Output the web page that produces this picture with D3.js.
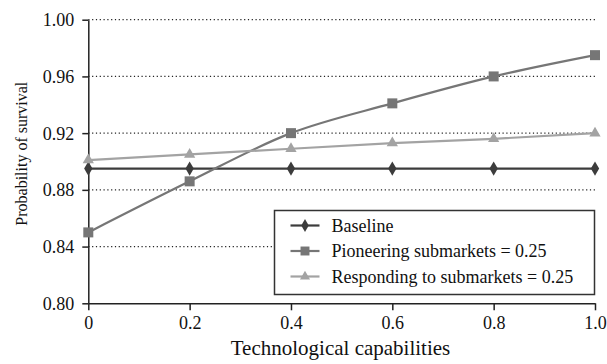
<!DOCTYPE html>
<html lang="en">
<head>
    <meta charset="UTF-8">
    <title>Probability of survival</title>
    <script src="https://d3js.org/d3.v7.min.js"></script>
    <style>
        body { margin: 0; background: #fff; }
        svg text { font-family: "Liberation Serif", "DejaVu Serif", serif; fill: #111; }
    </style>
</head>
<body>
    <div id="chart"></div>

    <script>
        // Chart data
        var xValues = [0, 0.2, 0.4, 0.6, 0.8, 1.0];
        var baseline = [0.895, 0.895, 0.895, 0.895, 0.895, 0.895];
        var pioneering = [0.850, 0.886, 0.920, 0.941, 0.960, 0.975];
        var responding = [0.901, 0.905, 0.909, 0.913, 0.916, 0.920];
        var yTicks = [0.80, 0.84, 0.88, 0.92, 0.96, 1.00];
        var xTicks = [0, 0.2, 0.4, 0.6, 0.8, 1.0];
        var seriesNames = ["Baseline", "Pioneering submarkets = 0.25", "Responding to submarkets = 0.25"];

        var svg = d3.select("#chart")
            .append("svg")
            .attr("width", 607)
            .attr("height", 364);

        var margin = { top: 19.7, right: 12, bottom: 60.7, left: 88.3 };
        var width = 595 - margin.left;
        var height = 303.3 - margin.top;

        var x = d3.scaleLinear().domain([0, 1]).range([0, width]);
        var y = d3.scaleLinear().domain([0.8, 1.0]).range([height, 0]);

        var g = svg.append("g")
            .attr("transform", "translate(" + margin.left + "," + margin.top + ")");

        // Dotted gridlines
        g.selectAll(".grid")
            .data(yTicks.filter(function(d) { return d > 0.8; }))
            .enter().append("line")
            .attr("class", "grid")
            .attr("x1", 0)
            .attr("x2", width)
            .attr("y1", function(d) { return y(d); })
            .attr("y2", function(d) { return y(d); })
            .attr("stroke", "#222")
            .attr("stroke-width", 1.2)
            .attr("stroke-dasharray", "1.2,2.6");

        // Axes
        var xAxis = g.append("g")
            .attr("transform", "translate(0," + height + ")")
            .call(d3.axisBottom(x).tickValues(xTicks).tickSize(7).tickSizeOuter(0)
                .tickFormat(function(d) { return d === 0 ? "0" : d3.format(".1f")(d); }));
        var yAxis = g.append("g")
            .call(d3.axisLeft(y).tickValues(yTicks).tickSize(6).tickSizeOuter(0)
                .tickFormat(d3.format(".2f")));

        [xAxis, yAxis].forEach(function(ax) {
            ax.select(".domain").attr("stroke", "#222").attr("stroke-width", 1.5);
            ax.selectAll(".tick line").attr("stroke", "#222").attr("stroke-width", 1.5);
            ax.selectAll(".tick text")
                .style("font-family", "'Liberation Serif', serif")
                .style("font-size", "18px")
                .attr("fill", "#111");
        });
        xAxis.selectAll(".tick text").attr("y", 10).attr("dy", "0.9em");
        yAxis.selectAll(".tick text").attr("x", -14).attr("dy", "0.33em");

        // Series lines
        var series = [
            { name: seriesNames[0], values: baseline, color: "#3c3c3c", symbol: d3.symbolDiamond, size: 60, curve: d3.curveLinear },
            { name: seriesNames[1], values: pioneering, color: "#767676", symbol: d3.symbolSquare, size: 100, curve: d3.curveCatmullRom },
            { name: seriesNames[2], values: responding, color: "#a3a3a3", symbol: d3.symbolTriangle, size: 55, curve: d3.curveLinear }
        ];

        series.forEach(function(s) {
            var pts = xValues.map(function(xv, i) { return [xv, s.values[i]]; });
            var line = d3.line()
                .x(function(d) { return x(d[0]); })
                .y(function(d) { return y(d[1]); })
                .curve(s.curve);

            g.append("path")
                .datum(pts)
                .attr("fill", "none")
                .attr("stroke", s.color)
                .attr("stroke-width", 2.2)
                .attr("d", line);

            g.selectAll(null)
                .data(pts)
                .enter().append("path")
                .attr("transform", function(d) { return "translate(" + x(d[0]) + "," + y(d[1]) + ")"; })
                .attr("d", d3.symbol().type(s.symbol).size(s.size))
                .attr("fill", s.color);
        });

        // Axis titles
        svg.append("text")
            .attr("x", 340.5)
            .attr("y", 355)
            .attr("text-anchor", "middle")
            .style("font-size", "21px")
            .text("Technological capabilities");

        svg.append("text")
            .attr("transform", "translate(27,153.7) rotate(-90)")
            .attr("text-anchor", "middle")
            .style("font-size", "16px")
            .text("Probability of survival");

        // Legend
        var legend = svg.append("g")
            .attr("transform", "translate(274.5,210.5)");

        legend.append("rect")
            .attr("width", 320)
            .attr("height", 84)
            .attr("fill", "#fff")
            .attr("stroke", "#333")
            .attr("stroke-width", 1.5);

        series.forEach(function(s, i) {
            var ly = 15 + i * 25.5;
            legend.append("line")
                .attr("x1", 16).attr("x2", 45)
                .attr("y1", ly).attr("y2", ly)
                .attr("stroke", s.color)
                .attr("stroke-width", 2.2);
            legend.append("path")
                .attr("transform", "translate(30.5," + ly + ")")
                .attr("d", d3.symbol().type(s.symbol).size(s.size * 0.8))
                .attr("fill", s.color);
            legend.append("text")
                .attr("x", 57)
                .attr("y", ly)
                .attr("dy", "0.35em")
                .style("font-size", "18px")
                .text(s.name);
        });
    </script>
</body>
</html>
